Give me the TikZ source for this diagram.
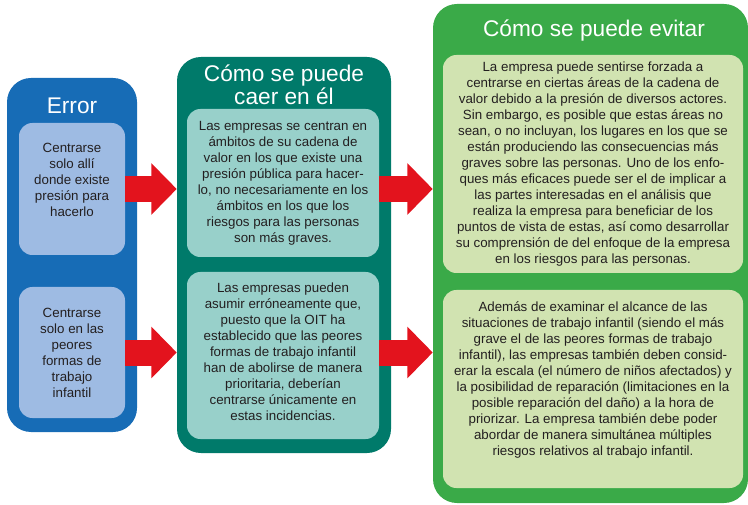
\documentclass[tikz,border=0pt]{standalone}
\usepackage{fontspec}
\setmainfont{Liberation Sans}
\usetikzlibrary{arrows.meta}
\definecolor{errblue}{RGB}{23,108,182}
\definecolor{errlight}{RGB}{158,187,227}
\definecolor{cauteal}{RGB}{0,122,106}
\definecolor{caulight}{RGB}{152,208,202}
\definecolor{evigreen}{RGB}{58,170,72}
\definecolor{evilight}{RGB}{209,227,177}
\definecolor{arrred}{RGB}{227,19,29}
\definecolor{txtgray}{RGB}{35,31,32}

\begin{document}
\begin{tikzpicture}[x=0.75pt,y=-0.75pt,
        col/.style={rounded corners=18pt,inner sep=0pt},
        box/.style={rounded corners=10pt,inner sep=0pt},
        txt/.style={align=center,text=txtgray,font=\fontsize{10}{12}\selectfont},
        ttl/.style={align=center,text=white,font=\fontsize{17}{15}\selectfont},
        bigarrow/.style={arrred,line width=19.5pt,-{Triangle[length=19pt,width=37.5pt]}}]
        \useasboundingbox(0,0)rectangle(748,505);
        % columns
        \node[col,fill=errblue,minimum width=97.5pt,minimum height=265.5pt](err)at(72,255){};
        \node[col,fill=cauteal,minimum width=160.5pt,minimum height=297pt](cau)at(284,255){};
        \node[col,fill=evigreen,minimum width=236.25pt,minimum height=374.25pt](evi)at(590.5,253.5){};
        \node[ttl](errT)at(72,106){Error};
        \node[ttl](cauT)at(284,85){Cómo se puede\\caer en él};
        \node[ttl](eviT)at(594,31){Cómo se puede evitar};
        % boxes
        \node[box,fill=errlight,minimum width=79.5pt,minimum height=99pt](errA)at(72,189){};
        \node[box,fill=errlight,minimum width=79.5pt,minimum height=98.25pt](errB)at(72,352.5){};
        \node[box,fill=caulight,minimum width=144pt,minimum height=111pt](cauA)at(283,183){};
        \node[box,fill=caulight,minimum width=144pt,minimum height=125.25pt](cauB)at(283,355.5){};
        \node[box,fill=evilight,minimum width=225pt,minimum height=163.5pt](eviA)at(593,164){};
        \node[box,fill=evilight,minimum width=225pt,minimum height=148.5pt](eviB)at(593,389){};
        \node[txt](errAt)at([yshift=7pt]errA.center){Centrarse\\solo allí\\donde existe\\presión para\\hacerlo};
        \node[txt](errBt)at(errB.center){Centrarse\\solo en las\\peores\\formas de\\trabajo\\infantil};
        \node[txt](cauAt)at(cauA.center){Las empresas se centran en\\ámbitos de su cadena de\\valor en los que existe una\\presión pública para hacer-\\lo, no necesariamente en los\\ámbitos en los que los\\riesgos para las personas\\son más graves.};
        \node[txt](cauBt)at([yshift=3pt]cauB.center){Las empresas pueden\\asumir erróneamente que,\\puesto que la OIT ha\\establecido que las peores\\formas de trabajo infantil\\han de abolirse de manera\\prioritaria, deberían\\centrarse únicamente en\\estas incidencias.};
        \node[txt](eviAt)at(eviA.center){La empresa puede sentirse forzada a\\centrarse en ciertas áreas de la cadena de\\valor debido a la presión de diversos actores.\\Sin embargo, es posible que estas áreas no\\sean, o no incluyan, los lugares en los que se\\están produciendo las consecuencias más\\graves sobre las personas. Uno de los enfo-\\ques más eficaces puede ser el de implicar a\\las partes interesadas en el análisis que\\realiza la empresa para beneficiar de los\\puntos de vista de estas, así como desarrollar\\su comprensión de del enfoque de la empresa\\en los riesgos para las personas.};
        \node[txt](eviBt)at([yshift=7pt]eviB.center){Además de examinar el alcance de las\\situaciones de trabajo infantil (siendo el más\\grave el de las peores formas de trabajo\\infantil), las empresas también deben consid-\\erar la escala (el número de niños afectados) y\\la posibilidad de reparación (limitaciones en la\\posible reparación del daño) a la hora de\\priorizar. La empresa también debe poder\\abordar de manera simultánea múltiples\\riesgos relativos al trabajo infantil.};
        % arrows
        \draw[bigarrow](errA.east)--(errA.east-|cau.west);
        \draw[bigarrow](errB.east)--(errB.east-|cau.west);
        \draw[bigarrow](errA.east-|cauA.east)--(errA.east-|evi.west);
        \draw[bigarrow](errB.east-|cauB.east)--(errB.east-|evi.west);
\end{tikzpicture}
\end{document}
